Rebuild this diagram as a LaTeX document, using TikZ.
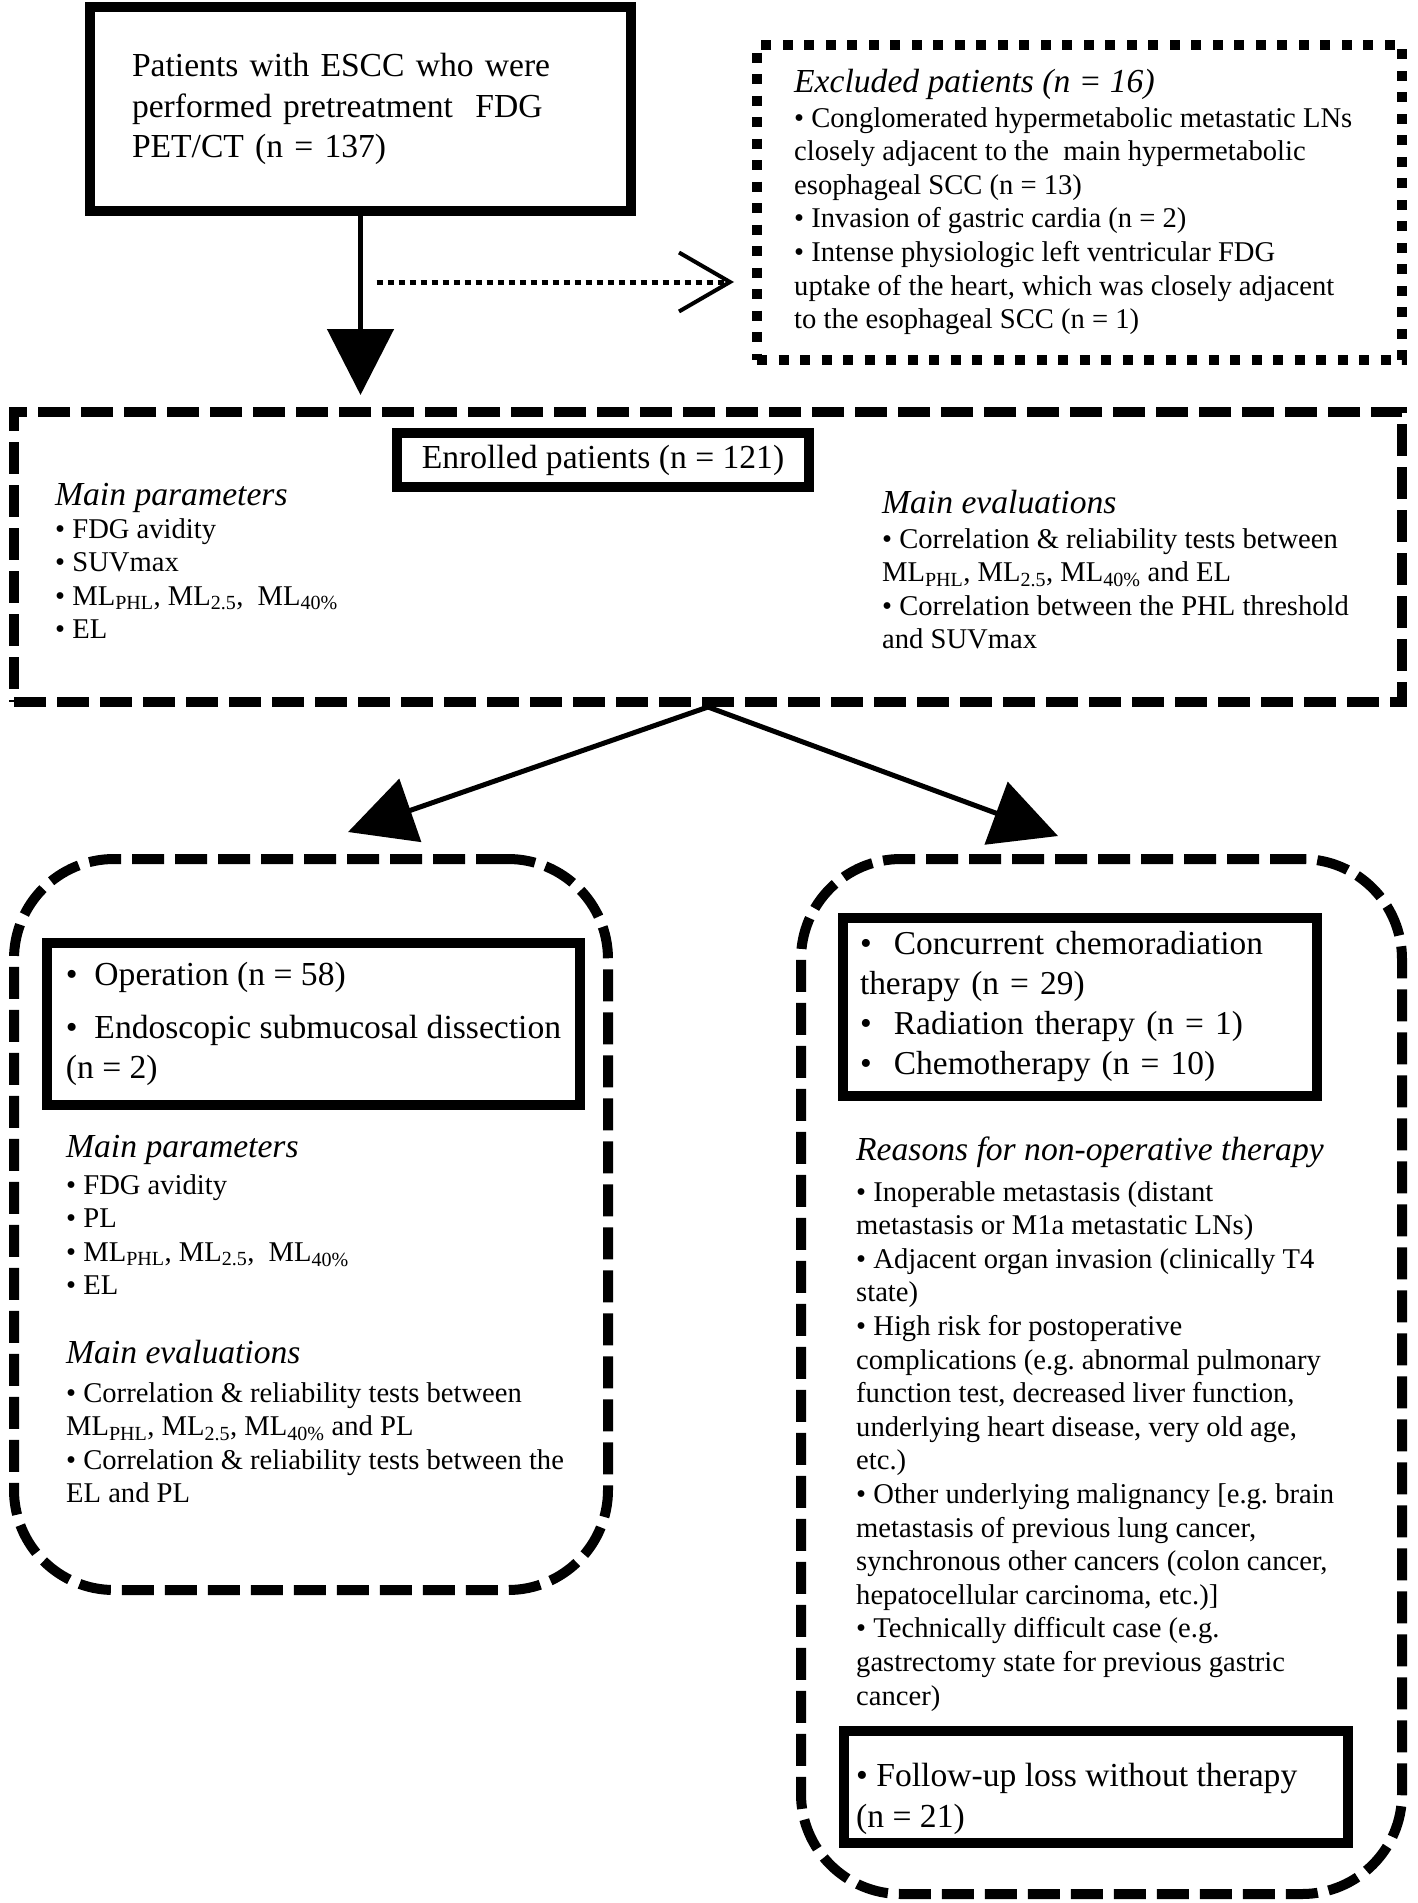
\documentclass[tikz,border=0pt]{standalone}
\usepackage{fontspec}
\setmainfont{Liberation Serif}
\usetikzlibrary{arrows.meta, positioning}

\newcommand{\boxfont}{\fontsize{33.6}{40.5}\selectfont}
\newcommand{\headingfont}{\fontsize{33.6}{40}\selectfont\itshape}
\newcommand{\listfont}{\fontsize{28.6}{33.6}\selectfont}

\begin{document}
\frenchspacing
\begin{tikzpicture}[x=1pt, y=1pt,
    box/.style={draw, rectangle, line width=10pt, inner sep=0pt, font=\boxfont},
    dashbox/.style={draw, rectangle, line width=10pt, dash pattern=on 32pt off 11pt},
    dotbox/.style={draw, rectangle, line width=10pt, dash pattern=on 10pt off 11.5pt},
    roundbox/.style={dashbox, rounded corners=100pt},
    heading/.style={font=\headingfont, inner sep=0pt, anchor=base west},
    items/.style={font=\listfont, align=left, inner sep=0pt, anchor=north west},
    flow/.style={line width=5pt, -{Triangle[length=66pt, width=66pt]}},
    exclarrow/.style={line width=5pt, dash pattern=on 6pt off 5pt,
        -{Straight Barb[length=51pt, width=59pt, line width=4pt]}}]
    \useasboundingbox (0,0) rectangle (1418,-1903);

    % screening
    \node[box, minimum width=541pt, minimum height=204pt, text width=457pt, inner xsep=42pt, align=left]
        (start) at (360.5,-109) {Patients with ESCC who were\\ performed pretreatment\ \ FDG\\ PET/CT (n = 137)};
    \node[dotbox, minimum width=645pt, minimum height=315pt] (excluded) at (1079.5,-202.5) {};
    \node[heading] (exclhead) at (794,-92) {Excluded patients (n = 16)};
    \node[items] (excllist) at (794,-107) {• Conglomerated hypermetabolic metastatic LNs\\
        closely adjacent to the\ \ main hypermetabolic\\
        esophageal SCC (n = 13)\\
        • Invasion of gastric cardia (n = 2)\\
        • Intense physiologic left ventricular FDG\\
        uptake of the heart, which was closely adjacent\\
        to the esophageal SCC (n = 1)};

    % enrolled
    \node[dashbox, minimum width=1388pt, minimum height=290pt] (enrolframe) at (708,-557) {};
    \node[box, minimum width=412pt, minimum height=54pt] (enrolled) at (603,-460) {Enrolled patients (n = 121)};
    \node[heading] (paramhead) at (55,-505) {Main parameters};
    \node[items] (paramlist) at (55,-518) {• FDG avidity\\ • SUVmax\\
        • ML\textsubscript{PHL}, ML\textsubscript{2.5},\ \ ML\textsubscript{40\%}\\ • EL};
    \node[heading] (evalhead) at (882,-513) {Main evaluations};
    \node[items] (evallist) at (882,-528) {• Correlation \& reliability tests between\\
        ML\textsubscript{PHL}, ML\textsubscript{2.5}, ML\textsubscript{40\%} and EL\\
        • Correlation between the PHL threshold\\ and SUVmax};

    % operative group
    \node[roundbox, minimum width=594pt, minimum height=731pt] (opgroup) at (311,-1224.5) {};
    \node[box, minimum width=533pt, minimum height=162pt, align=left] (oplist) at (313.5,-1024)
        {•\ \ Operation (n = 58)\\[12pt] •\ \ Endoscopic submucosal dissection\\ (n = 2)};
    \node[heading] (opparamhead) at (66,-1157) {Main parameters};
    \node[items] (opparamlist) at (66,-1174) {• FDG avidity\\ • PL\\
        • ML\textsubscript{PHL}, ML\textsubscript{2.5},\ \ ML\textsubscript{40\%}\\ • EL};
    \node[heading] (opevalhead) at (66,-1363) {Main evaluations};
    \node[items] (opevallist) at (66,-1382) {• Correlation \& reliability tests between\\
        ML\textsubscript{PHL}, ML\textsubscript{2.5}, ML\textsubscript{40\%} and PL\\
        • Correlation \& reliability tests between the\\ EL and PL};

    % non-operative group
    \node[roundbox, minimum width=601pt, minimum height=1035pt] (nonopgroup) at (1101.5,-1376.5) {};
    \node[box, minimum width=474pt, minimum height=178pt, text width=440pt, inner xsep=17pt, align=left,
        font=\fontsize{33.4}{40}\selectfont] (nonoplist) at (1080,-1007)
        {•\ \ Concurrent chemoradiation\\ therapy (n = 29)\\ •\ \ Radiation therapy (n = 1)\\ •\ \ Chemotherapy (n = 10)};
    \node[heading] (reasonhead) at (856,-1160) {Reasons for non-operative therapy};
    \node[items] (reasonlist) at (856,-1181) {• Inoperable metastasis (distant\\
        metastasis or M1a metastatic LNs)\\
        • Adjacent organ invasion (clinically T4\\
        state)\\
        • High risk for postoperative\\
        complications (e.g. abnormal pulmonary\\
        function test, decreased liver function,\\
        underlying heart disease, very old age,\\
        etc.)\\
        • Other underlying malignancy [e.g. brain\\
        metastasis of previous lung cancer,\\
        synchronous other cancers (colon cancer,\\
        hepatocellular carcinoma, etc.)]\\
        • Technically difficult case (e.g.\\
        gastrectomy state for previous gastric\\
        cancer)};
    \node[box, minimum width=504pt, minimum height=112pt] (lostfu) at (1096,-1787) {};
    \node[font=\boxfont, align=left, inner sep=0pt, below right=37pt and 17pt of lostfu.north west]
        (lostfutext) {• Follow-up loss without therapy\\ (n = 21)};

    % connectors
    \coordinate (branch) at ([yshift=-66pt]start.south);
    \coordinate (optip) at (348,-832);
    \coordinate (nonoptip) at (1058,-836);
    \draw[flow, shorten >=12pt] (start.south) -- (start.south |- enrolframe.north);
    \draw[exclarrow] ([xshift=16pt]branch) -- ([xshift=-18pt]branch -| excluded.west);
    \draw[flow] (enrolframe.south) -- (optip);
    \draw[flow] (enrolframe.south) -- (nonoptip);
\end{tikzpicture}
\end{document}
